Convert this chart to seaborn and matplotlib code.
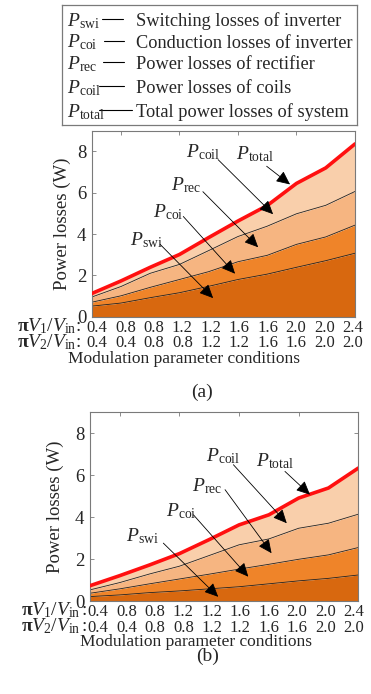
import numpy as np
import pandas as pd
import matplotlib
matplotlib.use("Agg")
import matplotlib.pyplot as plt
import seaborn as sns
from matplotlib.lines import Line2D

# Modulation parameter conditions (x axis rows)
v1_labels = ["0.4", "0.8", "0.8", "1.2", "1.2", "1.6", "1.6", "2.0", "2.0", "2.4"]
v2_labels = ["0.4", "0.4", "0.8", "0.8", "1.2", "1.2", "1.6", "1.6", "2.0", "2.0"]

# Loss components, panel (a)  [W]
swi_a = [0.51, 0.66, 0.92, 1.16, 1.47, 1.80, 2.06, 2.39, 2.71, 3.07]
coi_a = [0.19, 0.35, 0.50, 0.64, 0.71, 0.86, 0.91, 1.11, 1.15, 1.36]
rec_a = [0.25, 0.45, 0.68, 0.73, 1.02, 1.22, 1.41, 1.48, 1.53, 1.63]
coil_a = [0.17, 0.27, 0.29, 0.48, 0.63, 0.75, 1.00, 1.47, 1.81, 2.30]

# Loss components, panel (b)  [W]
swi_b = [0.21, 0.29, 0.40, 0.48, 0.58, 0.68, 0.82, 0.96, 1.08, 1.24]
coi_b = [0.16, 0.29, 0.42, 0.57, 0.70, 0.84, 0.93, 1.03, 1.12, 1.31]
rec_b = [0.16, 0.30, 0.47, 0.61, 0.89, 1.16, 1.21, 1.48, 1.51, 1.59]
coil_b = [0.20, 0.33, 0.43, 0.60, 0.76, 0.95, 1.15, 1.44, 1.68, 2.20]

legend_symbols = [r"$P_{\mathrm{swi}}$", r"$P_{\mathrm{coi}}$", r"$P_{\mathrm{rec}}$",
                  r"$P_{\mathrm{coil}}$", r"$P_{\mathrm{total}}$"]
legend_texts = ["Switching losses of inverter", "Conduction losses of inverter",
                "Power losses of rectifier", "Power losses of coils",
                "Total power losses of system"]

layer_colors = ["#d8680f", "#ef8429", "#f6b581", "#f9cfab"]
edge_gray = "#7a7a7a"

sns.set_theme(style="ticks")
plt.rcParams.update({
    "font.family": ["Liberation Serif", "DejaVu Serif"],
    "mathtext.fontset": "custom",
    "mathtext.rm": "Liberation Serif",
    "mathtext.it": "Liberation Serif:italic",
    "mathtext.bf": "Liberation Serif:bold",
})

W, H = 371, 694
fig = plt.figure(figsize=(W / 100, H / 100), dpi=100)


def fx(px):
    return px / W


def fy(py):
    return 1 - py / H


def draw_panel(ax, swi, coi, rec, coil, notes):
    x = np.arange(len(swi))
    tops = np.cumsum(np.array([swi, coi, rec, coil]), axis=0)
    prev = np.zeros(len(x))
    for top, col in zip(tops, layer_colors):
        ax.fill_between(x, prev, top, color=col, lw=0, zorder=1)
        prev = top
    bounds = pd.DataFrame({
        "cond": np.tile(x, 3),
        "value": tops[:3].ravel(),
        "layer": np.repeat(["swi", "coi", "rec"], len(x)),
    })
    sns.lineplot(data=bounds, x="cond", y="value", units="layer", estimator=None,
                 color="#222222", lw=0.6, ax=ax, zorder=2)
    sns.lineplot(x=x, y=tops[3], color="#ff1010", lw=2.6, ax=ax, zorder=3)
    ax.set_xlim(0, 9)
    ax.set_ylim(0, 9)
    ax.set_xticks([1, 3, 5, 7])
    ax.set_xticklabels([])
    ax.set_yticks([0, 2, 4, 6, 8])
    ax.set_xlabel("")
    ax.set_ylabel("")
    ax.tick_params(axis="both", direction="in", top=True, right=True, length=3,
                   width=0.6, color=edge_gray, labelsize=13.5, pad=4)
    for sp in ax.spines.values():
        sp.set_color(edge_gray)
        sp.set_linewidth(0.8)
    for label, txt_xy, tail, head in notes:
        ax.text(*txt_xy, label, fontsize=14, ha="center", va="center", zorder=5)
        ax.annotate("", xy=head, xytext=tail, zorder=5,
                    arrowprops=dict(arrowstyle="-|>,head_length=0.6,head_width=0.28",
                                    color="black", lw=0.6, mutation_scale=14,
                                    shrinkA=0, shrinkB=0))


notes_a = [
    (r"$P_{\mathrm{swi}}$", (1.86, 3.72), (2.34, 3.50), (4.15, 0.90)),
    (r"$P_{\mathrm{coi}}$", (2.62, 5.05), (3.13, 4.85), (4.90, 2.08)),
    (r"$P_{\mathrm{rec}}$", (3.24, 6.35), (3.80, 6.05), (5.69, 3.36)),
    (r"$P_{\mathrm{coil}}$", (3.80, 7.95), (4.32, 7.60), (6.20, 4.96)),
    (r"$P_{\mathrm{total}}$", (5.60, 7.85), (5.98, 7.28), (6.78, 6.40)),
]
notes_b = [
    (r"$P_{\mathrm{swi}}$", (1.76, 3.10), (2.46, 2.76), (4.30, 0.20)),
    (r"$P_{\mathrm{coi}}$", (3.07, 4.30), (3.47, 4.11), (5.31, 1.16)),
    (r"$P_{\mathrm{rec}}$", (3.94, 5.48), (4.53, 5.31), (6.09, 2.28)),
    (r"$P_{\mathrm{coil}}$", (4.45, 6.92), (4.81, 6.50), (6.60, 3.71)),
    (r"$P_{\mathrm{total}}$", (6.22, 6.68), (6.54, 6.18), (7.38, 5.07)),
]

ax_a = fig.add_axes([fx(91.7), fy(316.7), (355 - 91.7) / W, (316.7 - 130.7) / H])
ax_b = fig.add_axes([fx(90), fy(601), (358.3 - 90) / W, (601 - 412.3) / H])
draw_panel(ax_a, swi_a, coi_a, rec_a, coil_a, notes_a)
draw_panel(ax_b, swi_b, coi_b, rec_b, coil_b, notes_b)

# y labels
fig.text(fx(62), fy(223.7), "Power losses (W)", rotation=90, ha="center", va="center", fontsize=13.5)
fig.text(fx(55.5), fy(506.7), "Power losses (W)", rotation=90, ha="center", va="center", fontsize=13.5)

# condition rows under each panel
panel_rows = [
    dict(y1=327, y2=343, ylab=358.5, lab_right=81, sep=":", xlab_x=184,
         tag="(a)", tag_x=202, tag_y=392, xs=np.linspace(97, 353, 10)),
    dict(y1=611, y2=627, ylab=642, lab_right=87, sep=r"$\,$:", xlab_x=196,
         tag="(b)", tag_x=208, tag_y=656, xs=np.linspace(98, 354, 10)),
]
for pr in panel_rows:
    for yy, k in ((pr["y1"], "1"), (pr["y2"], "2")):
        lab = r"$\mathbf{\pi}V_" + k + r"/V_{\mathrm{in}}$" + pr["sep"]
        fig.text(fx(pr["lab_right"]), fy(yy + 4.5), lab, ha="right", va="baseline", fontsize=14)
    for xp, l1, l2 in zip(pr["xs"], v1_labels, v2_labels):
        fig.text(fx(xp), fy(pr["y1"] + 4.5), l1, ha="center", va="baseline", fontsize=12)
        fig.text(fx(xp), fy(pr["y2"] + 4.5), l2, ha="center", va="baseline", fontsize=12)
    fig.text(fx(pr["xlab_x"]), fy(pr["ylab"] + 4.5), "Modulation parameter conditions",
             ha="center", va="baseline", fontsize=12.5)
    fig.text(fx(pr["tag_x"]), fy(pr["tag_y"]), pr["tag"], ha="center", va="center", fontsize=14)

# legend box with symbol definitions
lg = fig.add_axes([fx(61.7), fy(125), (356.7 - 61.7) / W, 120 / H])
lg.set_xticks([])
lg.set_yticks([])
lg.patch.set_alpha(0)
for sp in lg.spines.values():
    sp.set_color(edge_gray)
    sp.set_linewidth(0.9)
row_y = [20, 41.7, 63.3, 87.3, 111.0]
dash_x = [(102, 123), (104, 124), (103, 124), (99, 124), (99, 132)]
for yc, sym, txt, (d0, d1) in zip(row_y, legend_symbols, legend_texts, dash_x):
    fig.text(fx(67), fy(yc + 6), sym, ha="left", va="baseline", fontsize=14)
    fig.add_artist(Line2D([fx(d0), fx(d1)], [fy(yc - 1), fy(yc - 1)],
                          color="black", lw=0.8, transform=fig.transFigure))
    fig.text(fx(136), fy(yc + 6), txt, ha="left", va="baseline", fontsize=13.2)

fig.savefig("out.png", dpi=100)
